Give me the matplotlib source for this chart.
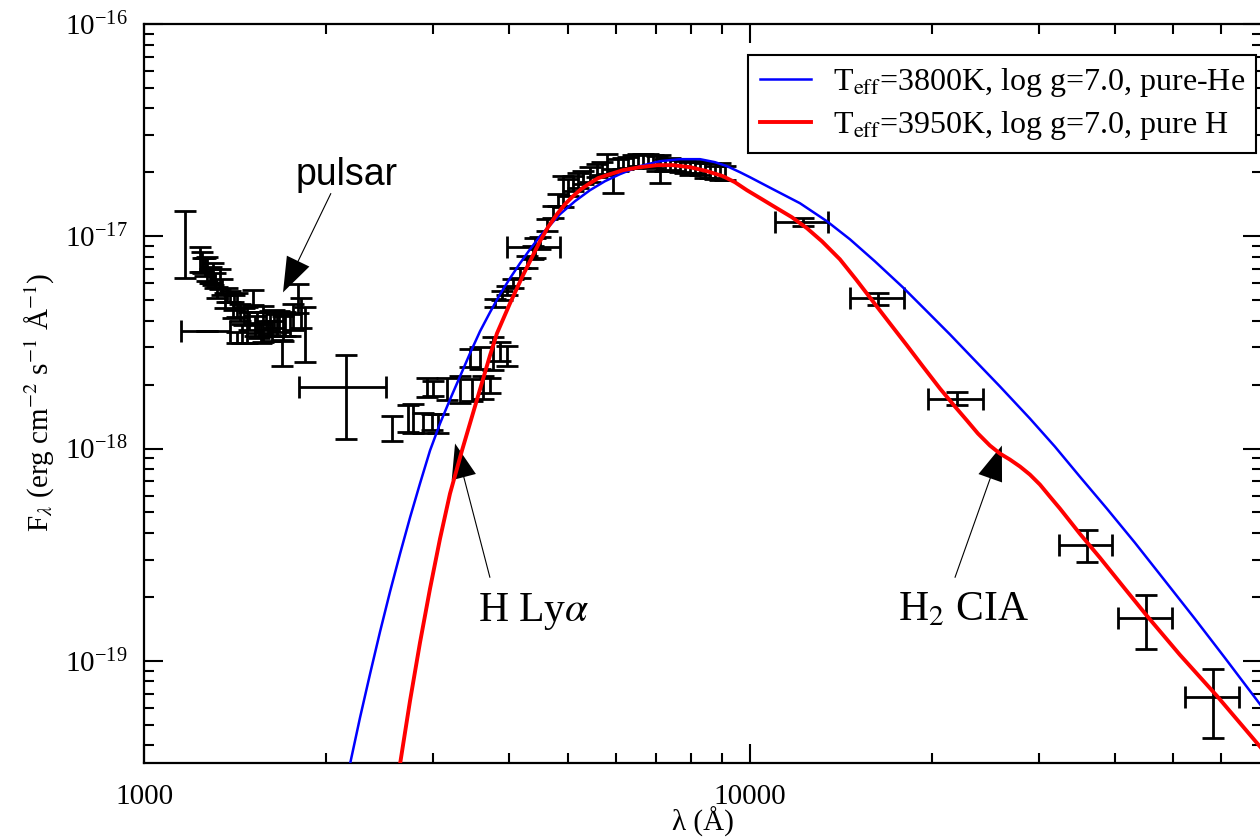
import numpy as np
import matplotlib
matplotlib.use('Agg')
import matplotlib.pyplot as plt
from matplotlib.ticker import (FixedLocator, FixedFormatter, LogLocator,
                               LogFormatterMathtext, NullFormatter)

plt.rcParams['font.family'] = ['Liberation Serif', 'DejaVu Serif']
plt.rcParams['mathtext.fontset'] = 'stix'

# ---------------- data (wavelength in Angstrom, flux in erg/cm2/s/A) ----------------
# far-UV spectrum (pulsar-contaminated)
uv_wave = [1169, 1237, 1250, 1270, 1285, 1300, 1320, 1335, 1360, 1387, 1400, 1424, 1424,
           1451, 1460, 1479, 1513, 1536, 1550, 1572, 1600, 1614, 1640, 1658, 1690, 1696,
           1741, 1795, 1844,
           1245, 1262, 1292, 1310, 1345, 1370, 1410, 1440, 1490, 1525, 1560, 1590, 1625,
           1670, 1710, 1760, 1815]
uv_flux = [9.79e-18, 7.87e-18, 7.3e-18, 7.06e-18, 6.5e-18, 6.69e-18, 5.44e-18, 6.34e-18,
           5.0e-18, 5.21e-18, 4.5e-18, 4.78e-18, 3.34e-18, 3.49e-18, 4.2e-18, 3.89e-18,
           5.16e-18, 3.97e-18, 3.6e-18, 3.93e-18, 3.7e-18, 3.93e-18, 4.1e-18, 3.85e-18,
           2.84e-18, 3.72e-18, 3.85e-18, 5.16e-18, 3.60e-18,
           7.6e-18, 7.2e-18, 6.6e-18, 6.2e-18, 5.8e-18, 5.3e-18, 4.9e-18, 4.4e-18, 4.0e-18,
           3.8e-18, 3.5e-18, 4.0e-18, 3.6e-18, 4.0e-18, 3.9e-18, 4.2e-18, 4.4e-18]
uv_err = [3.4e-18, 1.05e-18, 0.6e-18, 0.9e-18, 0.5e-18, 0.8e-18, 0.3e-18, 0.7e-18,
          0.4e-18, 0.3e-18, 0.4e-18, 0.6e-18, 0.2e-18, 0.35e-18, 0.4e-18, 0.75e-18,
          0.4e-18, 0.45e-18, 0.3e-18, 0.75e-18, 0.3e-18, 0.5e-18, 0.4e-18, 0.45e-18,
          0.4e-18, 0.5e-18, 0.45e-18, 0.8e-18, 1.05e-18,
          0.8e-18, 0.7e-18, 0.6e-18, 0.5e-18, 0.5e-18, 0.4e-18, 0.4e-18, 0.4e-18, 0.4e-18,
          0.4e-18, 0.35e-18, 0.4e-18, 0.4e-18, 0.45e-18, 0.5e-18, 0.6e-18, 0.7e-18]

# near-UV spectrum
nuv_wave = [2566, 2727, 2779, 2887, 2931, 2987, 2999, 3057, 3162, 3323, 3451, 3478,
            3585, 3626, 3724, 3766, 3868, 3972]
nuv_flux = [1.256e-18, 1.40e-18, 1.40e-18, 1.327e-18, 1.94e-18, 1.34e-18, 1.92e-18,
            1.32e-18, 1.92e-18, 1.92e-18, 2.69e-18, 1.90e-18, 2.69e-18, 1.96e-18,
            1.98e-18, 2.84e-18, 2.89e-18, 2.75e-18]
nuv_err = [0.17e-18, 0.2e-18, 0.22e-18, 0.14e-18, 0.2e-18, 0.12e-18, 0.15e-18, 0.14e-18,
           0.22e-18, 0.28e-18, 0.26e-18, 0.22e-18, 0.33e-18, 0.24e-18, 0.16e-18,
           0.5e-18, 0.3e-18, 0.3e-18]

# optical spectrum
opt_wave = [3795, 3898, 3972, 4064, 4174, 4285, 4384, 4503, 4624, 4731, 4822, 4914, 5009,
            5105, 5203, 5302, 5445, 5591, 5698, 5808, 5942, 6056, 6172, 6291, 6412, 6535,
            6660, 6788, 6918, 7024, 7104, 7240, 7379, 7520, 7665, 7810, 7962, 8114, 8270,
            8428, 8590, 8755, 8925, 9095]
opt_flux = [4.83e-18, 5.27e-18, 5.56e-18, 6.00e-18, 6.69e-18, 7.54e-18, 8.40e-18, 9.27e-18,
            11.27e-18, 12.98e-18, 14.79e-18, 16.48e-18, 17.02e-18, 17.78e-18, 18.37e-18,
            18.97e-18, 19.61e-18, 20.48e-18, 20.94e-18, 22.1e-18, 18.37e-18, 21.63e-18,
            22.1e-18, 22.34e-18, 22.58e-18, 22.83e-18, 22.83e-18, 22.83e-18, 22.58e-18,
            22.1e-18, 21.0e-18, 21.63e-18, 21.86e-18, 21.63e-18, 21.39e-18, 21.16e-18,
            20.94e-18, 21.16e-18, 20.94e-18, 20.48e-18, 20.48e-18, 20.04e-18, 20.25e-18,
            19.82e-18]
opt_err = [0.21e-18, 0.28e-18, 0.30e-18, 0.32e-18, 0.36e-18, 0.49e-18, 0.55e-18, 0.60e-18,
           0.73e-18, 0.85e-18, 0.96e-18, 2.7e-18, 1.5e-18, 1.5e-18, 1.4e-18, 1.4e-18,
           1.5e-18, 1.5e-18, 1.4e-18, 2.4e-18, 2.4e-18, 1.4e-18, 1.4e-18, 1.4e-18, 1.5e-18,
           1.5e-18, 1.5e-18, 1.5e-18, 1.5e-18, 1.9e-18, 3.2e-18, 1.4e-18, 1.4e-18, 1.4e-18,
           1.4e-18, 1.4e-18, 1.4e-18, 1.4e-18, 1.4e-18, 1.6e-18, 1.6e-18, 1.5e-18, 1.8e-18,
           1.5e-18]

# broad-band photometry
phot_wave = [1269, 2154, 4415, 12220, 16290, 21960, 35960, 45100, 58170]
phot_wave_err = [118, 352, 444, 1226, 1665, 2285, 3610, 4600, 5950]
phot_flux = [3.56e-18, 1.94e-18, 8.87e-18, 1.164e-17, 5.10e-18, 1.72e-18, 3.525e-19,
             1.595e-19, 6.75e-20]
phot_flux_err = [0.0, 0.83e-18, 0.97e-18, 0.05e-17, 0.33e-18, 0.12e-18, 0.6e-19,
                 0.455e-19, 2.42e-20]

# model: Teff=3800K, log g=7.0, pure-He
he_wave = [2188, 2272, 2361, 2452, 2547, 2646, 2748, 2854, 2965, 3080,
           3199, 3323, 3451, 3585, 3724, 3868, 4018, 4174, 4336, 4503,
           4677, 4858, 5144, 5445, 5764, 6101, 6582, 7104, 7666, 8271,
           8756, 9165, 9627, 10000, 10913, 12094, 13398, 14623, 16077, 17884,
           19447, 21380, 23338, 25857, 28975, 31857, 35025, 38822, 43178, 48399,
           54234, 60788, 69993]
he_flux = [3.267e-20, 5.384e-20, 8.684e-20, 1.370e-19, 2.116e-19, 3.196e-19, 4.727e-19,
           6.837e-19, 9.785e-19, 1.312e-18,
           1.702e-18, 2.186e-18, 2.806e-18, 3.564e-18, 4.381e-18, 5.326e-18, 6.338e-18,
           7.460e-18, 8.684e-18, 1.000e-17,
           1.127e-17, 1.270e-17, 1.463e-17, 1.648e-17, 1.817e-17, 1.961e-17, 2.139e-17,
           2.258e-17, 2.308e-17, 2.308e-17,
           2.234e-17, 2.139e-17, 2.004e-17, 1.898e-17, 1.666e-17, 1.431e-17, 1.177e-17,
           9.679e-18, 7.621e-18, 5.745e-18,
           4.525e-18, 3.450e-18, 2.658e-18, 1.961e-18, 1.385e-18, 1.022e-18, 7.379e-19,
           5.212e-19, 3.603e-19, 2.384e-19,
           1.578e-19, 1.033e-19, 6.068e-20]

# model: Teff=3950K, log g=7.0, pure H
h_wave = [2646, 2748, 2854, 2965, 3080, 3199, 3348, 3451, 3585, 3724,
          3824, 4018, 4221, 4503, 4642, 4803, 4952, 5105, 5262, 5445,
          5613, 5808, 6171, 6582, 7026, 7465, 7963, 8493, 9026, 9447,
          9887, 10466, 11079, 11731, 12420, 13146, 14077, 14960, 15956, 17020,
          18158, 19296, 20583, 21790, 22812, 23782, 24891, 25857, 26856, 27906,
          28975, 30102, 31262, 32485, 35025, 37803, 41573, 45194, 51239, 58968,
          69993]
h_flux = [3.267e-20, 6.476e-20, 1.216e-19, 2.186e-19, 3.762e-19, 6.134e-19, 9.785e-19,
          1.312e-18, 1.898e-18, 2.746e-18,
          3.488e-18, 4.830e-18, 6.547e-18, 9.472e-18, 1.103e-17, 1.270e-17, 1.416e-17,
          1.544e-17, 1.666e-17, 1.778e-17,
          1.877e-17, 1.940e-17, 2.048e-17, 2.116e-17, 2.1625e-17, 2.1625e-17, 2.116e-17,
          2.026e-17, 1.919e-17, 1.797e-17,
          1.648e-17, 1.495e-17, 1.355e-17, 1.229e-17, 1.091e-17, 9.472e-18, 7.788e-18,
          6.269e-18, 4.936e-18, 3.886e-18,
          3.062e-18, 2.436e-18, 1.919e-18, 1.578e-18, 1.355e-18, 1.177e-18, 1.033e-18,
          9.472e-19, 8.873e-19, 8.226e-19,
          7.540e-19, 6.765e-19, 5.938e-19, 5.212e-19, 3.972e-19, 3.062e-19, 2.186e-19,
          1.630e-19, 1.067e-19, 6.837e-20,
          3.845e-20]

x_ticks = [1000, 10000]
x_ticklabels = ['1000', '10000']
y_ticks = [1e-19, 1e-18, 1e-17, 1e-16]
he_label = r'T$_{\rm eff}$=3800K, log g=7.0, pure-He'
h_label = r'T$_{\rm eff}$=3950K, log g=7.0, pure H'

# ---------------- figure ----------------
fig = plt.figure(figsize=(12.6, 8.38), dpi=100)
ax = fig.add_axes([144 / 1260, 1 - 763 / 838, 1118 / 1260, 739 / 838])
ax.set_xscale('log')
ax.set_yscale('log')

eb = dict(fmt='none', ecolor='black', elinewidth=2.0, capsize=7.8, capthick=2.0, zorder=2)
ax.errorbar(uv_wave, uv_flux, yerr=uv_err, **eb)
ax.errorbar(nuv_wave, nuv_flux, yerr=nuv_err, **eb)
ax.errorbar(opt_wave, opt_flux, yerr=opt_err, **eb)
ax.errorbar(phot_wave, phot_flux, xerr=phot_wave_err, yerr=phot_flux_err, **eb)

ax.plot(he_wave, he_flux, color='#0000ff', lw=1.8, label=he_label, zorder=3,
        solid_joinstyle='round')
ax.plot(h_wave, h_flux, color='#ff0000', lw=2.8, label=h_label, zorder=4,
        solid_joinstyle='round')

ax.set_xlim(1000, 70000)
ax.set_ylim(3.3e-20, 1e-16)

ax.xaxis.set_major_locator(FixedLocator(x_ticks))
ax.xaxis.set_major_formatter(FixedFormatter(x_ticklabels))
ax.xaxis.set_minor_locator(LogLocator(base=10, subs=np.arange(2, 10), numticks=50))
ax.xaxis.set_minor_formatter(NullFormatter())
ax.yaxis.set_major_locator(FixedLocator(y_ticks))
ax.yaxis.set_major_formatter(LogFormatterMathtext())
ax.yaxis.set_minor_locator(LogLocator(base=10, subs=np.arange(2, 10), numticks=50))
ax.yaxis.set_minor_formatter(NullFormatter())

ax.tick_params(which='both', direction='in', top=True, right=True, width=1.5,
               labelsize=21)
ax.tick_params(axis='x', pad=15)
ax.tick_params(axis='y', pad=12)
ax.tick_params(which='major', length=14)
ax.tick_params(which='minor', length=7)
for s in ax.spines.values():
    s.set_linewidth(1.6)

fig.text(703 / 1260, 1 - 822 / 838, 'λ (Å)', ha='center', va='center', fontsize=21)
fig.text(40 / 1260, 1 - 402 / 838, r'F$_\lambda$ (erg cm$^{-2}$ s$^{-1}$ Å$^{-1}$)',
         rotation=90, ha='center', va='center', fontsize=21)

leg = ax.legend(loc='upper right', bbox_to_anchor=(0.995, 0.958), fontsize=23,
                fancybox=False, edgecolor='black', framealpha=1, handlelength=1.6,
                handletextpad=0.7, labelspacing=0.3, borderpad=0.35, borderaxespad=0)
leg.get_frame().set_linewidth(1.5)

arrow = dict(facecolor='black', edgecolor='black', width=0.8, headwidth=18,
             headlength=25, shrink=0, lw=0)
ax.annotate('', xy=(1696, 5.44e-18), xytext=(2035, 1.595e-17), arrowprops=arrow)
ax.annotate('', xy=(3261, 1.056e-18), xytext=(3724, 2.463e-19), arrowprops=arrow)
ax.annotate('', xy=(26050, 1.033e-18), xytext=(21790, 2.463e-19), arrowprops=arrow)

ax.text(2163, 1.74e-17, 'pulsar', family=['Liberation Sans', 'DejaVu Sans'],
        fontsize=27, ha='center', va='baseline')
ax.text(4402, 1.544e-19, r'H Ly$\alpha$', fontsize=30, ha='center', va='baseline')
ax.text(22550, 1.544e-19, r'H$_2$ CIA', fontsize=30, ha='center', va='baseline')

fig.savefig('out.png', dpi=100)
